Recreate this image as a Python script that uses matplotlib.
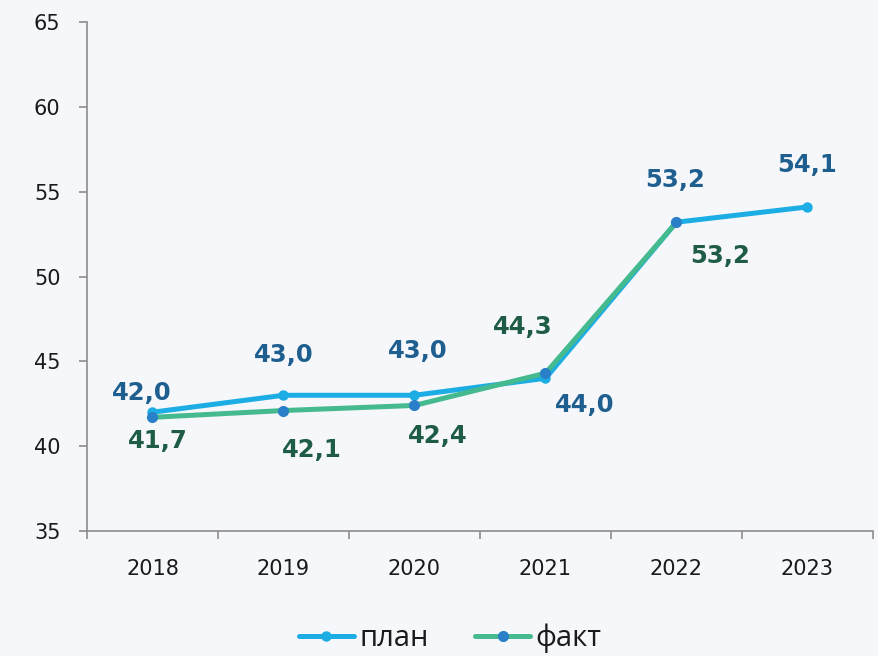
import matplotlib
matplotlib.use("Agg")
import matplotlib.pyplot as plt

years = ["2018", "2019", "2020", "2021", "2022", "2023"]
plan = [42.0, 43.0, 43.0, 44.0, 53.2, 54.1]
fact = [41.7, 42.1, 42.4, 44.3, 53.2]
y_ticks = [35, 40, 45, 50, 55, 60, 65]

# label offsets (pixels) relative to each point
plan_offsets = [(-11, 19), (0, 40), (3, 44), (39, -27), (-1, 42), (0, 42)]
fact_offsets = [(5, -24), (28, -39), (23, -31), (-23, 46), (44, -34)]

bg = "#F5F7FA"
plan_color = "#1BADE4"
fact_color = "#45BA8F"
fact_marker = "#2A80C8"
plan_text = "#1F5F8F"
fact_text = "#1E5C46"
axis_color = "#8C8C8C"

fig = plt.figure(figsize=(8.79, 6.56), dpi=100, facecolor=bg)
ax = fig.add_axes([87 / 879, 125 / 656, (873 - 87) / 879, (531 - 22) / 656])
ax.set_facecolor(bg)

x_plan = list(range(len(plan)))
x_fact = list(range(len(fact)))

ax.plot(x_plan, plan, color=plan_color, lw=3.6, marker="o", ms=6.5,
        mfc=plan_color, mec=plan_color, label="план", solid_capstyle="round", zorder=3)
ax.plot(x_fact, fact, color=fact_color, lw=3.6, marker="o", ms=7,
        mfc=fact_marker, mec=fact_marker, label="факт", solid_capstyle="round", zorder=4)

fmt = lambda v: f"{v:.1f}".replace(".", ",")
for xi, v, off in zip(x_plan, plan, plan_offsets):
    ax.annotate(fmt(v), (xi, v), xytext=off, textcoords="offset pixels",
                ha="center", va="center", fontsize=17.5, fontweight="bold",
                color=plan_text, family="DejaVu Sans", zorder=5)
for xi, v, off in zip(x_fact, fact, fact_offsets):
    ax.annotate(fmt(v), (xi, v), xytext=off, textcoords="offset pixels",
                ha="center", va="center", fontsize=17.5, fontweight="bold",
                color=fact_text, family="DejaVu Sans", zorder=5)

ax.set_xlim(-0.5, len(years) - 0.5)
ax.set_ylim(y_ticks[0], y_ticks[-1])
ax.set_yticks(y_ticks)
ax.set_yticklabels([str(t) for t in y_ticks])
ax.set_xticks(range(len(years)))
ax.set_xticklabels(years)
ax.set_xticks([i - 0.5 for i in range(len(years) + 1)], minor=True)

for s in ["top", "right"]:
    ax.spines[s].set_visible(False)
for s in ["left", "bottom"]:
    ax.spines[s].set_color(axis_color)
    ax.spines[s].set_linewidth(1.2)

ax.tick_params(axis="y", direction="out", length=6, width=1.2, color=axis_color,
               labelsize=15, labelcolor="#1a1a1a", pad=13)
ax.tick_params(axis="x", which="major", length=0, labelsize=15,
               labelcolor="#1a1a1a", pad=20)
ax.tick_params(axis="x", which="minor", direction="out", length=6, width=1.2,
               color=axis_color)

leg = fig.legend(loc="center", bbox_to_anchor=(0.512, 1 - 638 / 656), ncol=2,
                 frameon=False, prop={"family": "Open Sans", "size": 21},
                 handlelength=1.9, handletextpad=0.17, columnspacing=1.6)
for t in leg.get_texts():
    t.set_color("#1a1a1a")

fig.savefig("out.png", dpi=100, facecolor=bg)
